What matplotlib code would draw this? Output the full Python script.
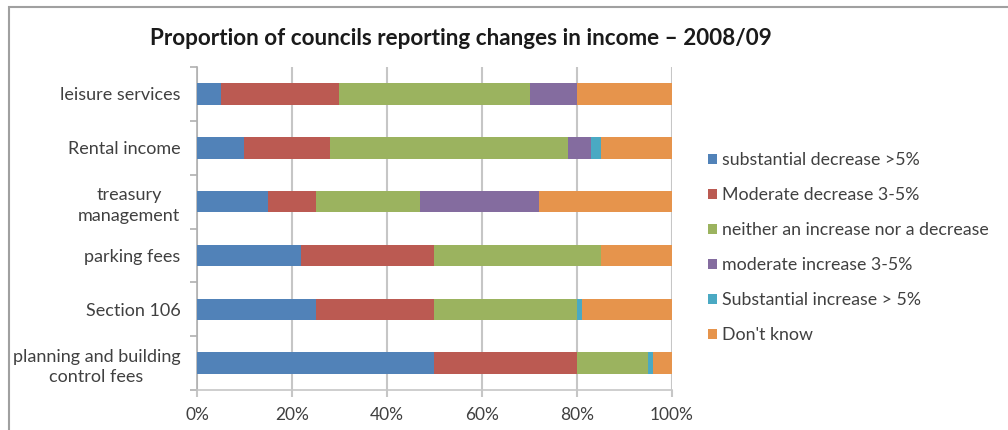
import matplotlib.pyplot as plt
import numpy as np
from matplotlib.patches import Rectangle

categories = [
    "leisure services",
    "Rental income",
    "treasury\nmanagement",
    "parking fees",
    "Section 106",
    "planning and building\ncontrol fees",
]
series_names = [
    "substantial decrease >5%",
    "Moderate decrease 3-5%",
    "neither an increase nor a decrease",
    "moderate increase 3-5%",
    "Substantial increase > 5%",
    "Don't know",
]
substantial_decrease = [5, 10, 15, 22, 25, 50]
moderate_decrease = [25, 18, 10, 28, 25, 30]
no_change = [40, 50, 22, 35, 30, 15]
moderate_increase = [10, 5, 25, 0, 0, 0]
substantial_increase = [0, 2, 0, 0, 1, 1]
dont_know = [20, 15, 28, 15, 19, 4]
x_ticks = [0, 20, 40, 60, 80, 100]

colors = ["#5182b8", "#bb5a52", "#9bb35f", "#846c9f", "#4aa9c3", "#e6944c"]
text_color = "#404040"
grid_color = "#c6c6c6"

plt.rcParams["font.family"] = ["Lato", "DejaVu Sans"]

fig = plt.figure(figsize=(10.08, 4.30), dpi=100)
ax = fig.add_axes([0.1954, 0.093, 0.4713, 0.751])

# outer chart border (runs off the right and bottom edges)
fig.patches.append(Rectangle((9 / 1008, -0.05), 1.2, 1 - 6.5 / 430 + 0.05,
                             transform=fig.transFigure, fill=False,
                             edgecolor="#a0a0a0", linewidth=1.5))

values = [substantial_decrease, moderate_decrease, no_change,
          moderate_increase, substantial_increase, dont_know]
y = np.arange(len(categories))
left = np.zeros(len(categories))
for name, vals, color in zip(series_names, values, colors):
    ax.barh(y, vals, left=left, height=0.4, color=color, label=name,
            zorder=3)
    left += np.array(vals)

ax.set_xlim(0, 100)
ax.set_ylim(len(categories) - 0.5, -0.5)
ax.set_xticks(x_ticks)
ax.set_xticklabels([f"{t}%" for t in x_ticks], fontsize=12.5,
                   color=text_color)
ax.set_yticks(y)
ax.set_yticklabels(categories, fontsize=13, color=text_color,
                   multialignment="center", linespacing=1.35)
ax.set_yticks(np.arange(-0.5, len(categories)), minor=True)
ax.tick_params(axis="y", which="major", length=0, pad=12)
ax.tick_params(axis="y", which="minor", length=5, color="#b0b0b0",
               width=1.2)
ax.tick_params(axis="x", length=5, color=grid_color, width=1.5, pad=7)

ax.grid(axis="x", color=grid_color, linewidth=1.5, zorder=0)
for side in ["top", "right"]:
    ax.spines[side].set_visible(False)
ax.spines["left"].set_color("#b0b0b0")
ax.spines["left"].set_linewidth(1.2)
ax.spines["bottom"].set_color(grid_color)
ax.spines["bottom"].set_linewidth(1.2)

fig.text(0.457, 0.91, "Proportion of councils reporting changes in income \u2013 2008/09",
         ha="center", va="center", fontsize=16.2, fontweight="bold",
         color="#1a1a1a")

leg = ax.legend(loc="center left", bbox_to_anchor=(1.06, 0.441), frameon=False,
                fontsize=12.8, handlelength=0.5, handleheight=0.5,
                handletextpad=0.3, labelspacing=1.07, borderaxespad=0)
for t in leg.get_texts():
    t.set_color(text_color)

fig.savefig("out.png", dpi=100, facecolor="white")
